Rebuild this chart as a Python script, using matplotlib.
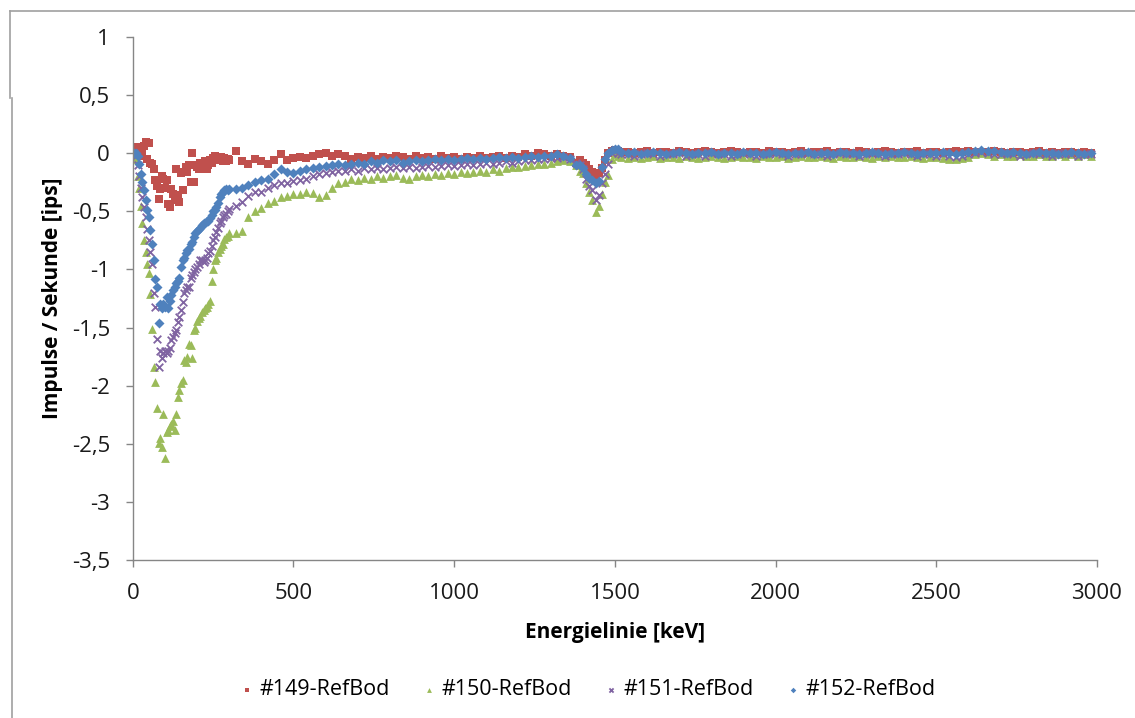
import numpy as np
import matplotlib.pyplot as plt
from matplotlib.lines import Line2D

plt.rcParams['font.family'] = ['Open Sans', 'DejaVu Sans']

# energy lines [keV]: dense grid at low energy, coarser further up
e_lo = np.arange(5, 305, 5)
e_mid = np.arange(320, 1400, 20)
e_pk = np.arange(1390, 1530, 10)
e_hi = np.arange(1540, 3000, 20)

# --- #149-RefBod (red squares)
r149_lo = [0.0, 0.05, 0.04, -0.02, 0.02, 0.0, 0.06, 0.1, -0.05, 0.09,
           -0.08, -0.09, -0.14, -0.23, -0.28, -0.39, -0.31, -0.2, -0.22, -0.3,
           -0.23, -0.44, -0.46, -0.31, -0.35, -0.4, -0.14, -0.36, -0.42, -0.17,
           -0.32, -0.16, -0.12, -0.16, -0.1, -0.25, 0.0, -0.25, -0.1, -0.12,
           -0.14, -0.08, -0.09, -0.11, -0.07, -0.14, -0.1, -0.06, -0.08, -0.04,
           -0.02, -0.05, -0.06, -0.05, -0.03, -0.07, -0.04, -0.07, -0.05, -0.06]
r149_mid = [0.02, -0.07, -0.09, -0.05, -0.07, -0.09, -0.06, -0.01, -0.06, -0.04,
            -0.03, -0.04, -0.02, -0.01, 0.0, -0.02, -0.01, -0.02, -0.05, -0.03,
            -0.04, -0.02, -0.05, -0.03, -0.04, -0.02, -0.03, -0.05, -0.02, -0.04,
            -0.03, -0.05, -0.02, -0.04, -0.03, -0.05, -0.03, -0.04, -0.02, -0.04,
            -0.03, -0.02, -0.04, -0.02, -0.03, -0.01, -0.02, 0.0, -0.01, -0.02,
            -0.01, -0.02, -0.03, -0.08]
r149_pk = [-0.06, -0.08, -0.1, -0.14, -0.16, -0.19, -0.17, -0.13, -0.06, 0.0,
           0.02, 0.03, 0.02, 0.01]
r149_hi = [0.01, 0.0, 0.01, 0.02, 0.0, 0.01, 0.01, 0.0, 0.02, 0.01,
           0.0, 0.01, 0.02, 0.01, 0.0, 0.01, 0.02, 0.01, 0.0, 0.01,
           0.01, 0.0, 0.02, 0.01, 0.01, 0.0, 0.01, 0.02, 0.0, 0.01,
           0.01, 0.02, 0.0, 0.01, 0.01, 0.0, 0.02, 0.01, 0.0, 0.01,
           0.02, 0.01, 0.0, 0.01, 0.01, 0.02, 0.0, 0.01, 0.01, 0.0,
           0.01, 0.02, 0.01, 0.02, 0.01, 0.0, 0.01, 0.02, 0.01, 0.0,
           0.01, 0.01, 0.0, 0.01, 0.02, 0.0, 0.01, 0.0, 0.01, 0.01,
           0.0, 0.01, 0.0]

# --- #150-RefBod (green triangles)
r150_lo = [0.0, -0.05, -0.2, -0.3, -0.45, -0.6, -0.75, -0.85, -0.95, -1.03,
           -1.21, -1.51, -1.84, -1.97, -2.19, -2.49, -2.45, -2.53, -2.24, -2.62,
           -2.4, -2.38, -2.35, -2.33, -2.3, -2.38, -2.24, -2.1, -2.04, -1.98,
           -1.95, -1.78, -1.8, -1.75, -1.64, -1.65, -1.76, -1.52, -1.5, -1.44,
           -1.42, -1.4, -1.37, -1.35, -1.33, -1.32, -1.3, -1.27, -1.1, -1.0,
           -0.92, -0.9, -0.85, -0.82, -0.8, -0.78, -0.74, -0.72, -0.71, -0.69]
r150_mid = [-0.69, -0.67, -0.55, -0.5, -0.47, -0.43, -0.41, -0.38, -0.37, -0.35,
            -0.35, -0.33, -0.34, -0.38, -0.36, -0.3, -0.26, -0.25, -0.22, -0.23,
            -0.21, -0.22, -0.2, -0.21, -0.2, -0.19, -0.21, -0.22, -0.2, -0.19,
            -0.2, -0.18, -0.19, -0.17, -0.18, -0.16, -0.17, -0.16, -0.15, -0.16,
            -0.14, -0.15, -0.13, -0.12, -0.12, -0.11, -0.1, -0.09, -0.09, -0.08,
            -0.07, -0.06, -0.07, -0.1]
r150_pk = [-0.15, -0.17, -0.26, -0.33, -0.4, -0.51, -0.45, -0.35, -0.25, -0.19,
           -0.05, -0.01, -0.02, -0.03]
r150_hi = [-0.04, -0.03, -0.04, -0.03, -0.02, -0.04, -0.03, -0.03, -0.04, -0.02,
           -0.03, -0.04, -0.03, -0.02, -0.03, -0.04, -0.03, -0.02, -0.03, -0.03,
           -0.04, -0.02, -0.03, -0.03, -0.02, -0.04, -0.03, -0.02, -0.03, -0.03,
           -0.02, -0.03, -0.04, -0.02, -0.03, -0.03, -0.02, -0.03, -0.04, -0.02,
           -0.03, -0.02, -0.03, -0.03, -0.02, -0.03, -0.04, -0.03, -0.03, -0.04,
           -0.05, -0.05, -0.04, -0.03, -0.01, 0.0, -0.01, -0.02, -0.01, -0.02,
           -0.02, -0.01, -0.02, -0.02, -0.01, -0.02, -0.02, -0.01, -0.02, -0.01,
           -0.02, -0.01, -0.02]

# --- #151-RefBod (purple crosses)
r151_lo = [0.0, -0.02, -0.1, -0.2, -0.3, -0.38, -0.46, -0.55, -0.65, -0.75,
           -0.85, -0.95, -1.2, -1.32, -1.6, -1.84, -1.7, -1.76, -1.72, -1.7,
           -1.72, -1.7, -1.68, -1.61, -1.58, -1.55, -1.52, -1.45, -1.41, -1.35,
           -1.28, -1.2, -1.18, -1.15, -1.15, -1.07, -1.05, -1.02, -1.0, -0.98,
           -0.95, -0.92, -0.92, -0.94, -0.92, -0.9, -0.86, -0.84, -0.8, -0.75,
           -0.72, -0.68, -0.64, -0.6, -0.58, -0.55, -0.53, -0.52, -0.5, -0.48]
r151_mid = [-0.45, -0.42, -0.37, -0.33, -0.33, -0.3, -0.27, -0.26, -0.26, -0.24,
            -0.23, -0.22, -0.2, -0.18, -0.17, -0.16, -0.15, -0.15, -0.14, -0.15,
            -0.13, -0.14, -0.13, -0.14, -0.13, -0.12, -0.13, -0.12, -0.13, -0.12,
            -0.11, -0.12, -0.11, -0.1, -0.11, -0.1, -0.09, -0.1, -0.09, -0.08,
            -0.09, -0.08, -0.07, -0.08, -0.07, -0.06, -0.06, -0.05, -0.05, -0.04,
            -0.04, -0.03, -0.05, -0.08]
r151_pk = [-0.1, -0.14, -0.22, -0.28, -0.32, -0.4, -0.36, -0.26, -0.18, -0.09,
           0.0, 0.02, 0.0, -0.01]
r151_hi = [-0.01, -0.02, -0.01, 0.0, -0.01, -0.02, -0.01, -0.01, 0.0, -0.02,
           -0.01, -0.01, -0.02, 0.0, -0.01, -0.01, -0.02, -0.01, 0.0, -0.01,
           -0.02, -0.01, -0.01, 0.0, -0.01, -0.02, -0.01, -0.01, 0.0, -0.01,
           -0.01, -0.02, -0.01, 0.0, -0.01, -0.01, -0.02, -0.01, 0.0, -0.01,
           -0.02, -0.01, -0.01, 0.0, -0.01, -0.02, -0.01, -0.01, -0.02, -0.01,
           -0.02, -0.03, -0.02, -0.01, 0.0, 0.01, 0.0, -0.01, -0.01, 0.0,
           -0.01, -0.02, -0.01, 0.0, -0.01, -0.01, -0.02, 0.0, -0.01, -0.01,
           -0.02, -0.01, -0.01]

# --- #152-RefBod (blue diamonds)
r152_lo = [0.0, 0.0, -0.02, -0.09, -0.18, -0.25, -0.32, -0.4, -0.49, -0.55,
           -0.66, -0.78, -0.92, -1.08, -1.15, -1.46, -1.3, -1.33, -1.3, -1.32,
           -1.24, -1.33, -1.27, -1.22, -1.18, -1.15, -1.12, -1.1, -1.07, -0.98,
           -0.92, -0.9, -0.86, -0.83, -0.82, -0.78, -0.76, -0.72, -0.69, -0.67,
           -0.65, -0.64, -0.62, -0.6, -0.6, -0.58, -0.58, -0.56, -0.53, -0.5,
           -0.49, -0.46, -0.43, -0.38, -0.35, -0.33, -0.32, -0.31, -0.32, -0.31]
r152_mid = [-0.31, -0.3, -0.27, -0.25, -0.23, -0.22, -0.18, -0.14, -0.16, -0.17,
            -0.15, -0.14, -0.13, -0.12, -0.11, -0.1, -0.09, -0.1, -0.09, -0.08,
            -0.09, -0.07, -0.08, -0.06, -0.07, -0.06, -0.08, -0.07, -0.06, -0.07,
            -0.06, -0.05, -0.06, -0.05, -0.06, -0.05, -0.04, -0.05, -0.04, -0.05,
            -0.04, -0.03, -0.04, -0.03, -0.04, -0.03, -0.02, -0.03, -0.02, -0.02,
            -0.01, -0.02, -0.04, -0.1]
r152_pk = [-0.1, -0.13, -0.18, -0.21, -0.23, -0.26, -0.24, -0.12, -0.05, 0.0,
           0.03, 0.04, 0.04, 0.01]
r152_hi = [0.0, 0.01, -0.01, 0.0, 0.01, 0.0, -0.01, 0.0, 0.01, 0.0,
           -0.01, 0.0, 0.0, 0.01, -0.01, 0.0, 0.0, -0.01, 0.01, 0.0,
           0.0, -0.01, 0.0, 0.01, 0.0, -0.01, 0.0, 0.0, 0.01, -0.01,
           0.0, 0.0, -0.01, 0.01, 0.0, 0.0, -0.01, 0.0, 0.01, 0.0,
           -0.01, 0.0, 0.0, 0.01, 0.0, -0.01, 0.0, 0.0, 0.0, 0.01,
           0.0, -0.01, 0.0, 0.01, 0.02, 0.03, 0.02, 0.02, 0.01, 0.0,
           0.01, 0.0, -0.01, 0.0, 0.01, 0.0, 0.0, -0.01, 0.0, 0.01,
           0.0, -0.01, 0.0]

series = [
    ('#149-RefBod', [r149_lo, r149_mid, r149_pk, r149_hi], 's', '#C0504D', 28),
    ('#150-RefBod', [r150_lo, r150_mid, r150_pk, r150_hi], '^', '#9BBB59', 40),
    ('#151-RefBod', [r151_lo, r151_mid, r151_pk, r151_hi], 'x', '#8064A2', 30),
    ('#152-RefBod', [r152_lo, r152_mid, r152_pk, r152_hi], 'D', '#4F81BD', 26),
]

energy = np.concatenate([e_lo, e_mid, e_pk, e_hi])

y_ticks = [1, 0.5, 0, -0.5, -1, -1.5, -2, -2.5, -3, -3.5]
y_labels = ['1', '0,5', '0', '-0,5', '-1', '-1,5', '-2', '-2,5', '-3', '-3,5']
x_ticks = [0, 500, 1000, 1500, 2000, 2500, 3000]

fig = plt.figure(figsize=(11.35, 7.18), dpi=100)
ax = fig.add_axes([0.117, 0.22, 0.8495, 0.7285])

for name, parts, mk, col, sz in series:
    vals = np.concatenate([np.array(p, dtype=float) for p in parts])
    if mk == 'x':
        ax.scatter(energy, vals, marker=mk, s=sz, color=col, linewidths=1.3, label=name)
    else:
        ax.scatter(energy, vals, marker=mk, s=sz, color=col, linewidths=0, label=name)

ax.set_xlim(0, 3000)
ax.set_ylim(-3.5, 1)
ax.set_xticks(x_ticks)
ax.set_xticklabels([str(t) for t in x_ticks])
ax.set_yticks(y_ticks)
ax.set_yticklabels(y_labels)

grey = '#868686'
for s in ['top', 'right']:
    ax.spines[s].set_visible(False)
for s in ['left', 'bottom']:
    ax.spines[s].set_color(grey)
    ax.spines[s].set_linewidth(1.0)
ax.tick_params(axis='both', direction='out', length=5, width=1, color=grey,
               labelsize=16, labelcolor='#1a1a1a')
ax.tick_params(axis='y', pad=11.5)
ax.tick_params(axis='x', pad=11.5)

ax.set_xlabel('Energielinie [keV]', fontsize=15, fontweight='bold', labelpad=13)
ax.set_ylabel('Impulse / Sekunde [ips]', fontsize=15, fontweight='bold', labelpad=6)

leg = ax.legend(loc='center', bbox_to_anchor=(0.517, 0.039), bbox_transform=fig.transFigure,
                ncol=4, frameon=False, fontsize=15.5, markerscale=0.55,
                handlelength=0.8, handletextpad=0.2, columnspacing=1.4,
                scatterpoints=1)

# outer frame of the chart area
fig.add_artist(Line2D([0.009, 1.0], [0.985, 0.985], transform=fig.transFigure,
                      color='#A0A0A0', lw=1.2))
fig.add_artist(Line2D([0.009, 0.009], [0.985, 0.864], transform=fig.transFigure,
                      color='#A0A0A0', lw=1.2))
fig.add_artist(Line2D([0.0105, 0.0105], [0.864, 0.0], transform=fig.transFigure,
                      color='#A0A0A0', lw=1.2))

fig.savefig('out.png', dpi=100)
